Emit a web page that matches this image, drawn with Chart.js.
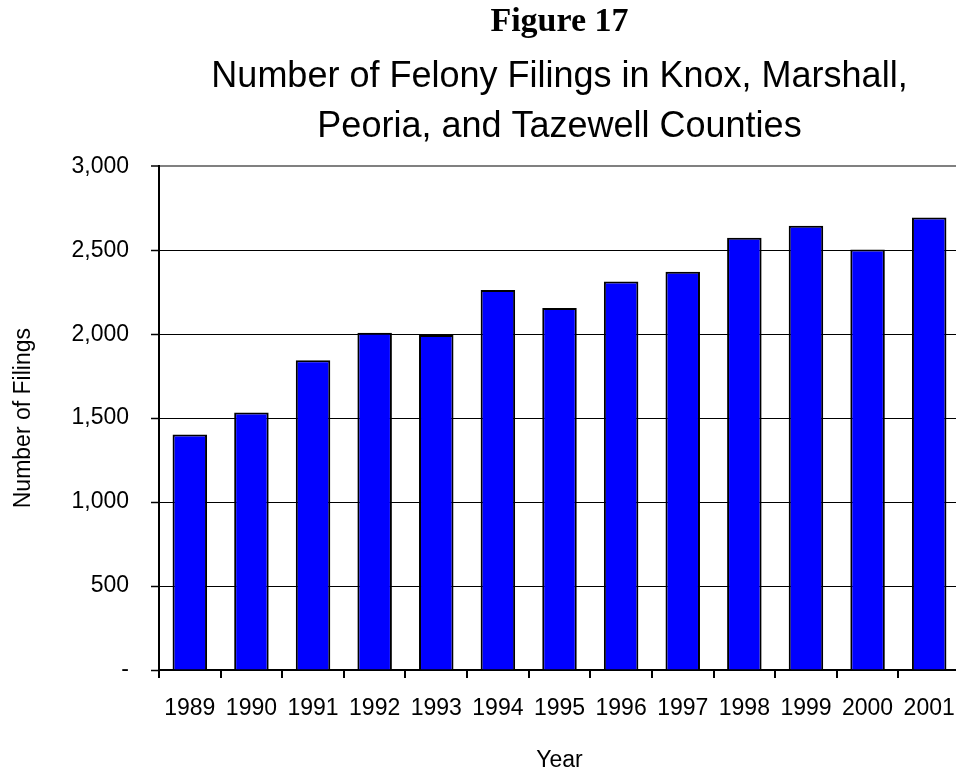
<!DOCTYPE html>
<html>
<head>
<meta charset="utf-8">
<script src="https://cdn.jsdelivr.net/npm/chart.js@4/dist/chart.umd.min.js"></script>
<style>
  html, body { margin: 0; padding: 0; background: #fff; overflow: hidden; }
  #wrap { width: 956px; height: 774px; overflow: hidden; }
</style>
</head>
<body>
<div id="wrap"><canvas id="felony" width="960" height="774"></canvas></div>
<script>
var years = ['1989', '1990', '1991', '1992', '1993', '1994', '1995', '1996', '1997', '1998', '1999', '2000', '2001'];
var filings = [1402, 1534, 1845, 2008, 1995, 2263, 2156, 2314, 2372, 2574, 2646, 2504, 2695];
var yTicks = [0, 500, 1000, 1500, 2000, 2500, 3000];

var sans = "'Liberation Sans', Arial, sans-serif";
Chart.defaults.color = '#000';
Chart.defaults.font.family = sans;

var ctx = document.getElementById('felony').getContext('2d');
var chart = new Chart(ctx, {
    type: 'bar',
    data: {
        labels: years,
        datasets: [{
            label: 'Felony filings',
            data: filings,
            backgroundColor: '#0000ff',
            borderColor: '#000',
            borderWidth: 2,
            borderSkipped: 'bottom',
            categoryPercentage: 1,
            barPercentage: 0.56
        }]
    },
    options: {
        responsive: false,
        devicePixelRatio: 1,
        animation: false,
        layout: { padding: 0 },
        plugins: {
            legend: { display: false },
            tooltip: { enabled: false },
            title: {
                display: true,
                fullSize: false,
                text: 'Figure 17',
                font: { family: "'Liberation Serif', 'Times New Roman', serif", size: 34, weight: 'bold', lineHeight: 1.2 },
                padding: { top: 2, bottom: 0 }
            },
            subtitle: {
                display: true,
                fullSize: false,
                text: ['Number of Felony Filings in Knox, Marshall,', 'Peoria, and Tazewell Counties'],
                font: { family: sans, size: 36, lineHeight: 1.389 },
                color: '#000',
                padding: { top: 9, bottom: 14.5 }
            }
        },
        scales: {
            x: {
                offset: true,
                grid: {
                    offset: true,
                    drawOnChartArea: false,
                    drawTicks: true,
                    tickLength: 8,
                    color: '#000',
                    lineWidth: 2
                },
                border: { display: true, color: '#000', width: 2 },
                ticks: { font: { size: 23 }, padding: 17, maxRotation: 0, autoSkip: false },
                title: { display: true, text: 'Year', font: { size: 23 }, padding: { top: 0, bottom: 0 } },
                afterFit: function (scale) {
                    scale.height = 104;
                    scale.paddingLeft = 0;
                    scale.paddingRight = 0;
                }
            },
            y: {
                min: 0,
                max: 3000,
                afterBuildTicks: function (scale) {
                    scale.ticks = yTicks.map(function (v) { return { value: v }; });
                },
                grid: {
                    color: function (c) { return c.tick && c.tick.value === 3000 ? '#808080' : '#000'; },
                    lineWidth: function (c) { return c.tick && c.tick.value === 3000 ? 2 : 1; },
                    tickColor: '#000',
                    tickLength: 8,
                    tickWidth: 1.5
                },
                border: { display: true, color: '#000', width: 2 },
                ticks: {
                    font: { size: 23 },
                    padding: 22,
                    callback: function (value) {
                        return value === 0 ? '-' : value.toLocaleString('en-US');
                    }
                },
                title: { display: true, text: 'Number of Filings', font: { size: 23 }, padding: { top: 10, bottom: 0 } },
                afterFit: function (scale) { scale.width = 159; }
            }
        }
    }
});
</script>
</body>
</html>
